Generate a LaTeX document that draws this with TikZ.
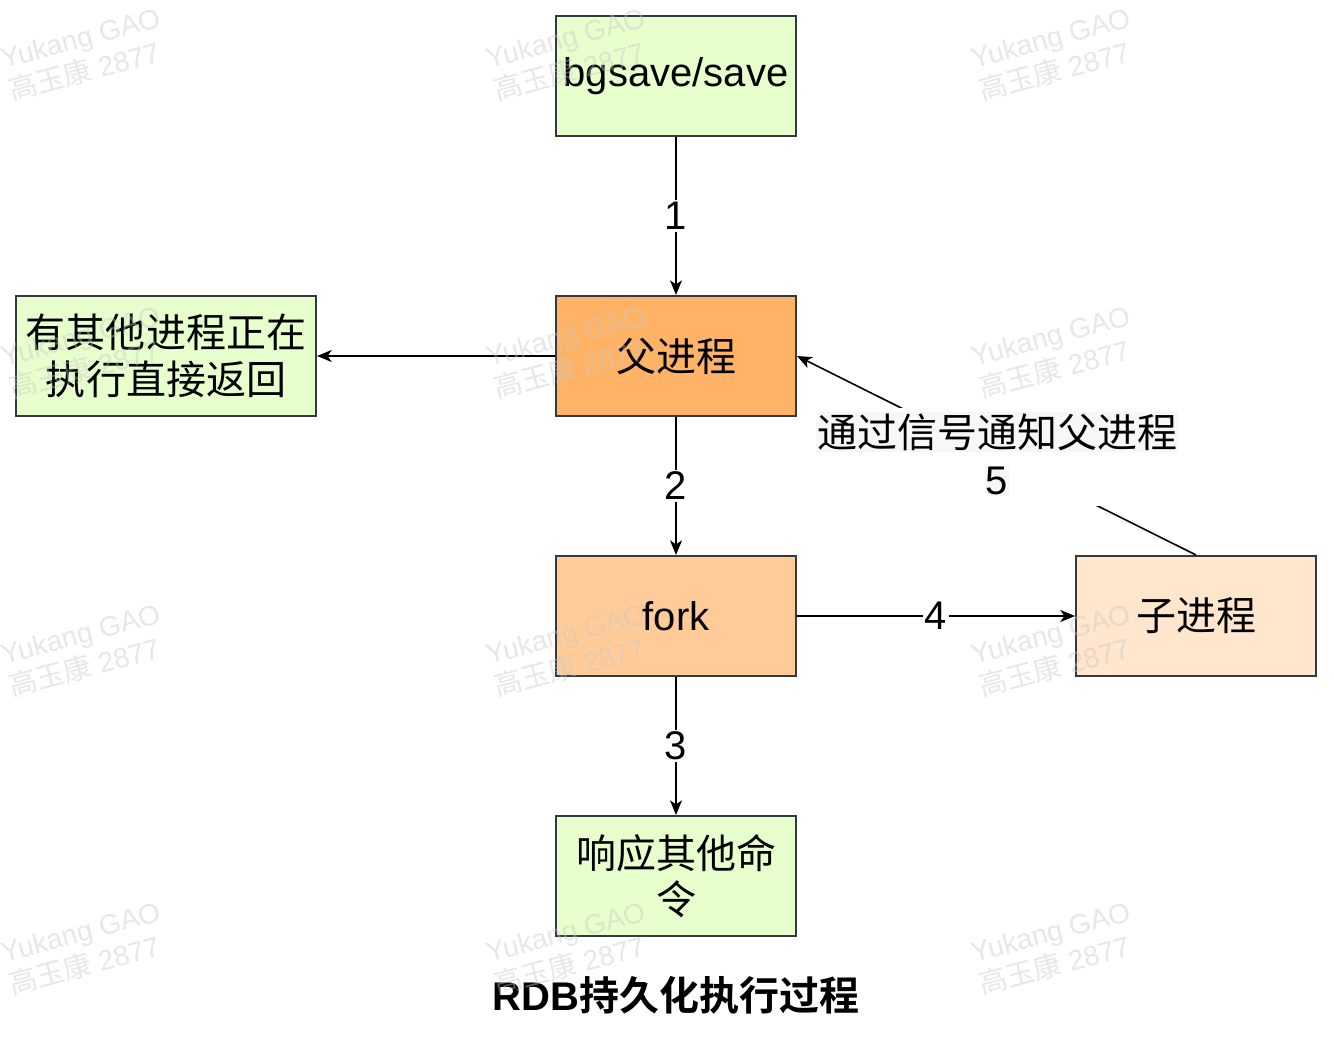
\documentclass[tikz,border=0pt]{standalone}
\usepackage{fontspec}
\setmainfont{Liberation Sans}
\newfontfamily\cjk{Noto Sans CJK SC}[BoldFont={Noto Sans CJK SC Bold}]
\usetikzlibrary{arrows.meta}
\definecolor{boxline}{HTML}{36393D}
\definecolor{green1}{HTML}{E6FFCC}
\definecolor{orange1}{HTML}{FFB366}
\definecolor{orange2}{HTML}{FFCC99}
\definecolor{orange3}{HTML}{FFE6CC}
\definecolor{wmgray}{HTML}{C8C8C8}
\definecolor{lblbg}{HTML}{F6F7F9}
\tikzset{
  box/.style={draw=boxline, line width=1.5pt, minimum width=180pt, minimum height=90pt,
    font=\fontsize{30}{35}\selectfont, align=center, inner sep=0pt},
  conn/.style={line width=1.2pt, draw=black, -{Stealth[length=11pt,width=9pt,inset=3pt]}},
  num/.style={fill=white, font=\fontsize{30}{35}\selectfont, inner sep=1.5pt},
  lbl/.style={fill=lblbg, font=\fontsize{30}{35}\selectfont, inner sep=1pt},
  wm/.style={text=wmgray, text opacity=0.42, rotate=15, align=left,
    font=\fontsize{21}{25}\selectfont, inner sep=0pt}
}
\begin{document}
\begin{tikzpicture}[x=0.75pt,y=-0.75pt]
\useasboundingbox[fill=white] (0,0) rectangle (1334,1037);

\node[box, fill=green1] (bg) at (676,76) {bgsave/save};
\node[box, fill=orange1] (fa) at (676,356) {\cjk 父进程};
\node[box, fill=green1, minimum width=225pt] (ot) at (166,356) {\cjk 有其他进程正在\\\cjk 执行直接返回};
\node[box, fill=orange2] (fk) at (676,616) {fork};
\node[box, fill=orange3] (zi) at (1196,616) {\cjk 子进程};
\node[box, fill=green1] (rs) at (676,876) {\cjk 响应其他命\\\cjk 令};

\draw[conn] (bg.south) -- node[num] (n1) {1} (fa.north);
\draw[conn] (fa.south) -- node[num] (n2) {2} (fk.north);
\draw[conn] (fk.south) -- node[num] (n3) {3} (rs.north);
\draw[conn] (fk.east) -- node[num] (n4) {4} (zi.west);
\draw[conn] (fa.west) -- (ot.east);
\draw[conn] (zi.north) -- (fa.east);

\node[fill=white, minimum width=270pt, minimum height=73.5pt, inner sep=0pt] (lblbox) at (997,457) {};
\node[lbl] (l5a) at (997,432) {\cjk 通过信号通知父进程};
\node[lbl] (l5b) at (997,481) {5};

\node[font=\fontsize{30}{35}\selectfont\bfseries] (title) at (676,995) {RDB{\cjk\bfseries 持久化执行过程}};

\foreach \wx in {85,570,1055}{
  \foreach \wy in {55,353,651,949}{
    \node[wm] at (\wx,\wy) {Yukang GAO\\{\cjk 高玉康} 2877};
  }
}
\end{tikzpicture}
\end{document}
